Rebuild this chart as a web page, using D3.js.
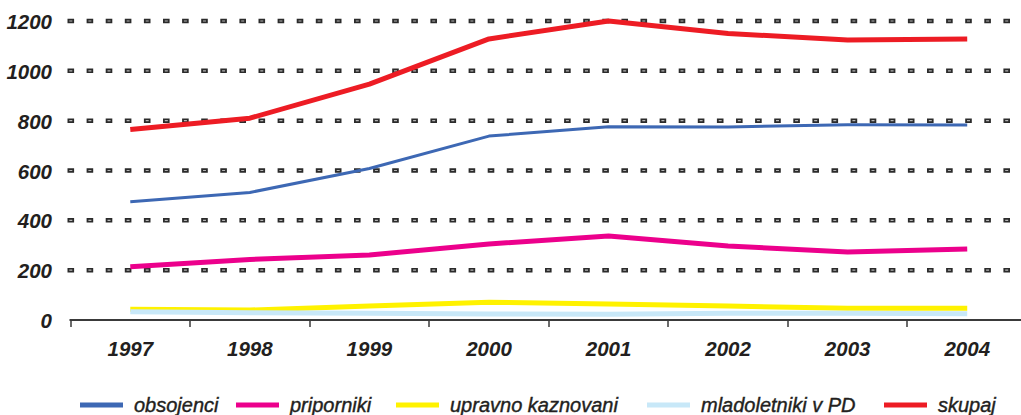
<!DOCTYPE html>
<html>
<head>
<meta charset="utf-8">
<script src="https://cdn.jsdelivr.net/npm/d3@7"></script>
<style>
  body { margin: 0; background: #fff; }
  svg { display: block; font-family: 'Liberation Sans', Arial, sans-serif; }
</style>
</head>
<body>
<svg width="1021" height="415"></svg>
<script>
// data
let years = ['1997', '1998', '1999', '2000', '2001', '2002', '2003', '2004'];
let yTicks = [0, 200, 400, 600, 800, 1000, 1200];

let obsojenci = [475, 512, 608, 738, 776, 775, 784, 783];
let priporniki = [214, 243, 261, 305, 337, 297, 273, 285];
let upravno = [43, 40, 56, 71, 64, 56, 47, 47];
let mladoletniki = [33, 29, 27, 24, 23, 27, 27, 25];
let skupaj = [765, 810, 947, 1128, 1200, 1150, 1124, 1128];

let seriesNames = ['obsojenci', 'priporniki', 'upravno kaznovani', 'mladoletniki v PD', 'skupaj'];
let seriesValues = [obsojenci, priporniki, upravno, mladoletniki, skupaj];
let colors = ['#3d68b4', '#ec008c', '#fff200', '#c8e8f8', '#ed1c24'];
let widths = [3, 5, 5, 5, 5];

let svg = d3.select('svg');

// scales
let xScale = d3.scaleBand()
    .domain(years)
    .range([70.5, 1027]);

let yScale = d3.scaleLinear()
    .domain([0, 1200])
    .range([320, 21]);

// dotted gridlines (dark little boxes with light centre)
let grid = svg.append('g').attr('class', 'grid');
yTicks.filter(d => d > 0).forEach(function(t) {
    grid.append('line')
        .attr('x1', 67.5).attr('x2', 1021)
        .attr('y1', yScale(t)).attr('y2', yScale(t))
        .attr('stroke', '#2b2b2b')
        .attr('stroke-width', 4.5)
        .attr('stroke-dasharray', '6.6 12.5');
    grid.append('line')
        .attr('x1', 69.3).attr('x2', 1021)
        .attr('y1', yScale(t)).attr('y2', yScale(t))
        .attr('stroke', '#b5b5b5')
        .attr('stroke-width', 1.2)
        .attr('stroke-dasharray', '3 16.1');
});

// y labels
let yAxis = d3.axisLeft(yScale)
    .tickValues(yTicks)
    .tickFormat(d3.format('d'))
    .tickSize(0)
    .tickPadding(0);

svg.append('g')
    .attr('transform', 'translate(52,0)')
    .call(yAxis)
    .call(g => g.select('.domain').remove())
    .selectAll('text')
    .attr('fill', '#231f20')
    .attr('font-size', '20.5px')
    .attr('font-weight', 'bold')
    .attr('font-style', 'italic')
    .attr('font-family', "'Liberation Sans', Arial, sans-serif")
    .attr('dy', '0.37em');

// x axis
let xAxis = d3.axisBottom(xScale)
    .tickSize(0)
    .tickPadding(0);

let xg = svg.append('g')
    .attr('transform', 'translate(0,320)')
    .call(xAxis);
xg.select('.domain').remove();
xg.selectAll('text')
    .attr('fill', '#231f20')
    .attr('font-size', '20.5px')
    .attr('font-weight', 'bold')
    .attr('font-style', 'italic')
    .attr('font-family', "'Liberation Sans', Arial, sans-serif")
    .attr('dy', '1.75em');

svg.append('line')
    .attr('x1', 69.5).attr('x2', 1021)
    .attr('y1', 320).attr('y2', 320)
    .attr('stroke', '#3a3a3a')
    .attr('stroke-width', 2);

svg.append('g').selectAll('line')
    .data(years)
    .enter()
    .append('line')
    .attr('x1', d => Math.round(xScale(d)))
    .attr('x2', d => Math.round(xScale(d)))
    .attr('y1', 320)
    .attr('y2', 327)
    .attr('stroke', '#3a3a3a')
    .attr('stroke-width', 1.5);

// lines
let line = d3.line()
    .x((d, i) => xScale(years[i]) + xScale.bandwidth() / 2)
    .y(d => yScale(d));

seriesValues.forEach(function(vals, k) {
    svg.append('path')
        .datum(vals)
        .attr('fill', 'none')
        .attr('stroke', colors[k])
        .attr('stroke-width', widths[k])
        .attr('stroke-linejoin', 'round')
        .attr('d', line);
});

// legend
let legendX = [80, 236, 396, 647, 884];
let legend = svg.append('g').attr('class', 'legend');
seriesNames.forEach(function(name, k) {
    legend.append('line')
        .attr('x1', legendX[k]).attr('x2', legendX[k] + 43)
        .attr('y1', 405).attr('y2', 405)
        .attr('stroke', colors[k])
        .attr('stroke-width', 5);
    legend.append('text')
        .attr('x', legendX[k] + 54)
        .attr('y', 412)
        .attr('fill', '#231f20')
        .attr('font-size', '20px')
        .attr('font-style', 'italic')
        .attr('stroke', '#231f20')
        .attr('stroke-width', 0.4)
        .text(name);
});
</script>
</body>
</html>
